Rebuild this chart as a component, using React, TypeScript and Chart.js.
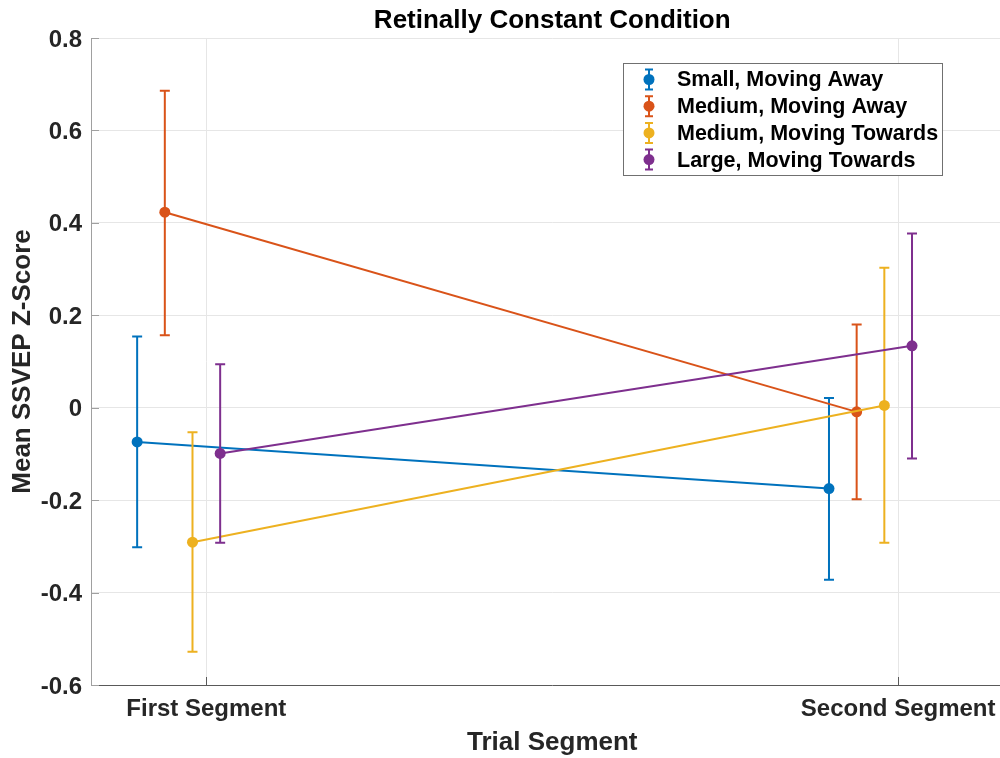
import React, { useEffect, useRef } from "react";
import { Chart, registerables } from "chart.js";

Chart.register(...registerables);

// Trial segments on the x axis
const segments = ["First Segment", "Second Segment"];
const segmentPositions = [1, 2];

// Series (legend order)
const seriesNames = [
  "Small, Moving Away",
  "Medium, Moving Away",
  "Medium, Moving Towards",
  "Large, Moving Towards",
];
const seriesColors = ["#0072BD", "#D95319", "#EDB120", "#7E2F8E"];
// horizontal dodge of each series around the segment position (axis units)
const seriesOffsets = [-0.1, -0.06, -0.02, 0.02];

// Mean SSVEP z-scores per segment, with error-bar ends
const smallAwayMean = [-0.074, -0.175];
const smallAwayLow = [-0.302, -0.372];
const smallAwayHigh = [0.154, 0.021];

const mediumAwayMean = [0.423, -0.009];
const mediumAwayLow = [0.157, -0.198];
const mediumAwayHigh = [0.686, 0.18];

const mediumTowardsMean = [-0.291, 0.005];
const mediumTowardsLow = [-0.528, -0.292];
const mediumTowardsHigh = [-0.053, 0.303];

const largeTowardsMean = [-0.099, 0.134];
const largeTowardsLow = [-0.292, -0.11];
const largeTowardsHigh = [0.094, 0.377];

const means = [smallAwayMean, mediumAwayMean, mediumTowardsMean, largeTowardsMean];
const lows = [smallAwayLow, mediumAwayLow, mediumTowardsLow, largeTowardsLow];
const highs = [smallAwayHigh, mediumAwayHigh, mediumTowardsHigh, largeTowardsHigh];

const yTickMin = -0.6;
const yTickMax = 0.8;
const yTickStep = 0.2;

const FONT = "'Liberation Sans', Arial, Helvetica, sans-serif";
const TEXT = "#262626";
const GRID = "#e6e6e6";

// Vertical error bars with caps, drawn under each series' line and markers
const errorBarPlugin = {
  id: "errorBars",
  beforeDatasetDraw(chart: any, args: any) {
    const i = args.index;
    const ds = chart.data.datasets[i];
    const xs = chart.scales.x;
    const ys = chart.scales.y;
    const ctx = chart.ctx;
    ctx.save();
    ctx.strokeStyle = ds.borderColor;
    ctx.lineWidth = 2;
    ds.data.forEach((pt: any, j: number) => {
      const px = xs.getPixelForValue(pt.x);
      const top = ys.getPixelForValue(highs[i][j]);
      const bot = ys.getPixelForValue(lows[i][j]);
      const cap = 5;
      ctx.beginPath();
      ctx.moveTo(px, top);
      ctx.lineTo(px, bot);
      ctx.moveTo(px - cap, top);
      ctx.lineTo(px + cap, top);
      ctx.moveTo(px - cap, bot);
      ctx.lineTo(px + cap, bot);
      ctx.stroke();
    });
    ctx.restore();
  },
};

// Inward tick marks, title and the boxed legend
const decorPlugin = {
  id: "decor",
  afterDraw(chart: any) {
    const ctx = chart.ctx;
    const { left, right, top, bottom } = chart.chartArea;
    const xs = chart.scales.x;
    const ys = chart.scales.y;
    ctx.save();

    // tick marks pointing into the plot
    ctx.lineWidth = 1;
    ctx.strokeStyle = "#a0a0a0";
    ys.ticks.forEach((t: any) => {
      const py = Math.round(ys.getPixelForValue(t.value)) + 0.5;
      ctx.beginPath();
      ctx.moveTo(left, py);
      ctx.lineTo(left + 8, py);
      ctx.stroke();
    });
    ctx.strokeStyle = "#595959";
    xs.ticks.forEach((t: any) => {
      const px = Math.round(xs.getPixelForValue(t.value)) + 0.5;
      ctx.beginPath();
      ctx.moveTo(px, bottom);
      ctx.lineTo(px, bottom - 8);
      ctx.stroke();
    });

    // title
    ctx.fillStyle = "#000";
    ctx.font = `bold 26px ${FONT}`;
    ctx.textAlign = "center";
    ctx.textBaseline = "middle";
    ctx.fillText("Retinally Constant Condition", (left + right) / 2, top - 17);

    // legend box
    const bx = 623;
    const by = 63;
    const bw = 319;
    const bh = 112;
    ctx.fillStyle = "#ffffff";
    ctx.fillRect(bx, by, bw, bh);
    ctx.strokeStyle = "#707070";
    ctx.lineWidth = 1;
    ctx.strokeRect(bx + 0.5, by + 0.5, bw, bh);
    const rowH = 26.7;
    seriesNames.forEach((name, i) => {
      const cy = by + 16.5 + i * rowH;
      const cx = 649;
      ctx.strokeStyle = seriesColors[i];
      ctx.lineWidth = 2;
      ctx.beginPath();
      ctx.moveTo(cx, cy - 10);
      ctx.lineTo(cx, cy + 10);
      ctx.moveTo(cx - 4, cy - 10);
      ctx.lineTo(cx + 4, cy - 10);
      ctx.moveTo(cx - 4, cy + 10);
      ctx.lineTo(cx + 4, cy + 10);
      ctx.stroke();
      ctx.fillStyle = seriesColors[i];
      ctx.beginPath();
      ctx.arc(cx, cy, 5.5, 0, Math.PI * 2);
      ctx.fill();
      ctx.fillStyle = "#000";
      ctx.font = `bold 21.5px ${FONT}`;
      ctx.textAlign = "left";
      ctx.textBaseline = "middle";
      ctx.fillText(name, 677, cy + 1);
    });
    ctx.restore();
  },
};

function SsvepChart() {
  const canvasRef = useRef<HTMLCanvasElement | null>(null);

  useEffect(() => {
    const canvas = canvasRef.current;
    if (!canvas) return;

    const datasets = seriesNames.map((name, i) => ({
      label: name,
      data: segmentPositions.map((p, j) => ({ x: p + seriesOffsets[i], y: means[i][j] })),
      borderColor: seriesColors[i],
      backgroundColor: seriesColors[i],
      borderWidth: 2,
      pointRadius: 5.5,
      pointHoverRadius: 5.5,
      pointBorderWidth: 0,
      tension: 0,
      fill: false,
      order: seriesNames.length - 1 - i,
    }));

    const chart = new Chart(canvas, {
      type: "line",
      data: { datasets },
      options: {
        animation: false,
        responsive: false,
        devicePixelRatio: 1,
        layout: { padding: { top: 38, left: 0, right: 1, bottom: 0 } },
        plugins: {
          legend: { display: false },
          tooltip: { enabled: false },
          title: { display: false },
        },
        scales: {
          x: {
            type: "linear",
            min: 0.8333,
            max: 2.1667,
            afterBuildTicks: (scale: any) => {
              scale.ticks = segmentPositions.map((v) => ({ value: v }));
            },
            afterFit: (scale: any) => {
              scale.height = 73;
              scale.paddingLeft = 0;
              scale.paddingRight = 0;
            },
            ticks: {
              autoSkip: false,
              maxRotation: 0,
              padding: 10,
              color: TEXT,
              font: { family: FONT, size: 24, weight: "bold" },
              callback: (_v: any, i: number) => segments[i],
            },
            grid: { color: GRID, lineWidth: 1, drawTicks: false },
            border: { display: true, color: "#595959", width: 1 },
            title: {
              display: true,
              text: "Trial Segment",
              color: TEXT,
              font: { family: FONT, size: 26, weight: "bold" },
              padding: 0,
            },
          },
          y: {
            type: "linear",
            min: yTickMin,
            max: yTickMax,
            afterFit: (scale: any) => {
              scale.width = 91;
              scale.paddingTop = 0;
              scale.paddingBottom = 0;
            },
            ticks: {
              stepSize: yTickStep,
              padding: 9,
              labelOffset: 2,
              color: TEXT,
              font: { family: FONT, size: 24, weight: "bold" },
              callback: (v: any) => {
                const n = Math.round(Number(v) * 10) / 10;
                return n === 0 ? "0" : String(n);
              },
            },
            grid: { color: GRID, lineWidth: 1, drawTicks: false },
            border: { display: true, color: "#a0a0a0", width: 1 },
            title: {
              display: true,
              text: "Mean SSVEP Z-Score",
              color: TEXT,
              font: { family: FONT, size: 26, weight: "bold" },
              padding: { top: 7, bottom: 0 },
            },
          },
        },
      } as any,
      plugins: [errorBarPlugin, decorPlugin],
    });

    return () => chart.destroy();
  }, []);

  return (
    <div
      style={{
        position: "fixed",
        left: 0,
        top: 0,
        width: 1000,
        height: 758,
        overflow: "hidden",
        background: "#ffffff",
      }}
    >
      <canvas ref={canvasRef} width={1019} height={758} style={{ display: "block" }} />
    </div>
  );
}

export default function App() {
  return <SsvepChart />;
}
